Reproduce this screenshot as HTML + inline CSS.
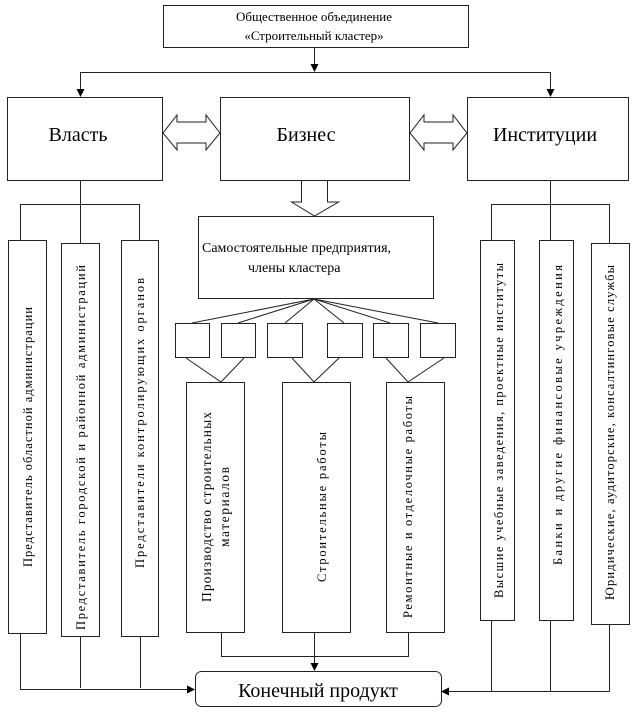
<!DOCTYPE html>
<html><head><meta charset="utf-8"><style>
html,body{margin:0;padding:0;background:#fff;}
svg{display:block;}
text{font-family:"Liberation Serif","DejaVu Serif",serif;fill:#000;}
</style></head><body>
<svg width="635" height="712" viewBox="0 0 635 712" xmlns="http://www.w3.org/2000/svg">
<defs>
<marker id="ah" markerWidth="8" markerHeight="8" refX="7" refY="4" orient="auto" markerUnits="userSpaceOnUse">
<path d="M0,0 L8,4 L0,8 z" fill="#000"/></marker>
</defs>
<g fill="none" stroke="#222" stroke-width="1">
<rect x="163.5" y="5.5" width="305" height="42"/>
<line x1="314.5" y1="47" x2="314.5" y2="71" marker-end="url(#ah)"/>
<line x1="80.5" y1="72.5" x2="550.5" y2="72.5"/>
<line x1="80.5" y1="72" x2="80.5" y2="96" marker-end="url(#ah)"/>
<line x1="550.5" y1="72" x2="550.5" y2="96" marker-end="url(#ah)"/>
<rect x="7.5" y="97.5" width="155" height="83"/>
<rect x="220.5" y="97.5" width="189" height="83"/>
<rect x="467.5" y="97.5" width="161" height="83"/>
<path d="M163,133 L177,115 L177,122 L206,122 L206,115 L220,133 L206,150 L206,143 L177,143 L177,150 Z"/>
<path d="M410,133 L424,115 L424,122 L453,122 L453,115 L467,133 L453,150 L453,143 L424,143 L424,150 Z"/>
<path d="M301.5,181 L301.5,202 L291.5,202 L314.5,216 L338.5,202 L327.5,202 L327.5,181"/>
<rect x="198.5" y="216.5" width="235" height="82"/>
<line x1="314" y1="299" x2="192" y2="323"/>
<line x1="314" y1="299" x2="238" y2="323"/>
<line x1="314" y1="299" x2="285" y2="323"/>
<line x1="314" y1="299" x2="344" y2="323"/>
<line x1="314" y1="299" x2="390" y2="323"/>
<line x1="314" y1="299" x2="438" y2="323"/>
<rect x="175.5" y="323.5" width="34" height="34"/>
<rect x="221.5" y="323.5" width="34" height="34"/>
<rect x="267.5" y="323.5" width="35" height="34"/>
<rect x="327.5" y="323.5" width="35" height="34"/>
<rect x="373.5" y="323.5" width="35" height="34"/>
<rect x="420.5" y="323.5" width="35" height="34"/>
<line x1="186" y1="358" x2="221" y2="382"/>
<line x1="244" y1="358" x2="221" y2="382"/>
<line x1="292" y1="358" x2="314" y2="382"/>
<line x1="339" y1="358" x2="314" y2="382"/>
<line x1="386" y1="358" x2="408" y2="382"/>
<line x1="444" y1="358" x2="408" y2="382"/>
<rect x="186.5" y="382.5" width="58" height="250"/>
<rect x="282.5" y="382.5" width="68" height="250"/>
<rect x="386.5" y="382.5" width="58" height="250"/>
<polyline points="221.5,632 221.5,656.5 408.5,656.5 408.5,632"/>
<line x1="314.5" y1="632" x2="314.5" y2="670" marker-end="url(#ah)"/>
<line x1="80.5" y1="181" x2="80.5" y2="243"/>
<polyline points="20.5,240 20.5,204.5 139.5,204.5 139.5,240"/>
<rect x="8.5" y="240.5" width="38" height="393"/>
<rect x="61.5" y="243.5" width="38" height="393"/>
<rect x="121.5" y="240.5" width="37" height="396"/>
<line x1="20.5" y1="634" x2="20.5" y2="689.5"/>
<line x1="20" y1="689.5" x2="194" y2="689.5" marker-end="url(#ah)"/>
<line x1="80.5" y1="637" x2="80.5" y2="688"/>
<line x1="140.5" y1="637" x2="140.5" y2="688"/>
<line x1="550.5" y1="181" x2="550.5" y2="240"/>
<polyline points="491.5,240 491.5,204.5 609.5,204.5 609.5,243"/>
<rect x="480.5" y="240.5" width="34" height="380"/>
<rect x="539.5" y="240.5" width="34" height="380"/>
<rect x="591.5" y="243.5" width="38" height="381"/>
<line x1="609.5" y1="625" x2="609.5" y2="691.5"/>
<line x1="609.5" y1="691.5" x2="442" y2="691.5" marker-end="url(#ah)"/>
<line x1="491.5" y1="621" x2="491.5" y2="691"/>
<line x1="550.5" y1="621" x2="550.5" y2="691"/>
<rect x="195.5" y="671.5" width="246" height="35" rx="6"/>
</g>
<g font-size="13">
<text x="314" y="21" text-anchor="middle">Общественное объединение</text>
<text x="314" y="40" text-anchor="middle">«Строительный кластер»</text>
</g>
<g font-size="20">
<text x="78" y="141" text-anchor="middle">Власть</text>
<text x="306" y="141" text-anchor="middle">Бизнес</text>
<text x="545" y="141" text-anchor="middle">Институции</text>
</g>
<g font-size="14">
<text x="202" y="252">Самостоятельные предприятия,</text>
<text x="248" y="272">члены кластера</text>
</g>
<text x="318" y="697" font-size="20" text-anchor="middle">Конечный продукт</text>
<g font-size="12.5">
<text transform="translate(32,567) rotate(-90)" textLength="260" lengthAdjust="spacing">Представитель областной администрации</text>
<text transform="translate(85,630) rotate(-90)" textLength="365" lengthAdjust="spacing">Представитель городской и районной администраций</text>
<text transform="translate(144,568) rotate(-90)" textLength="290" lengthAdjust="spacing">Представители  контролирующих органов</text>
<text transform="translate(211,507) rotate(-90)" text-anchor="middle" font-size="13.5" textLength="190" lengthAdjust="spacing">Производство строительных</text>
<text transform="translate(229,507) rotate(-90)" text-anchor="middle" font-size="13.5" textLength="80" lengthAdjust="spacing">материалов</text>
<text transform="translate(326,507) rotate(-90)" text-anchor="middle" textLength="150" lengthAdjust="spacing">Строительные работы</text>
<text transform="translate(412,618) rotate(-90)" textLength="222" lengthAdjust="spacing">Ремонтные и отделочные работы</text>
<text transform="translate(503,598) rotate(-90)" textLength="335" lengthAdjust="spacing">Высшие учебные заведения, проектные институты</text>
<text transform="translate(562,565) rotate(-90)" textLength="300" lengthAdjust="spacing">Банки и другие финансовые учреждения</text>
<text transform="translate(614,600) rotate(-90)" textLength="335" lengthAdjust="spacing">Юридические, аудиторские, консалтинговые службы</text>
</g>
</svg>
</body></html>
